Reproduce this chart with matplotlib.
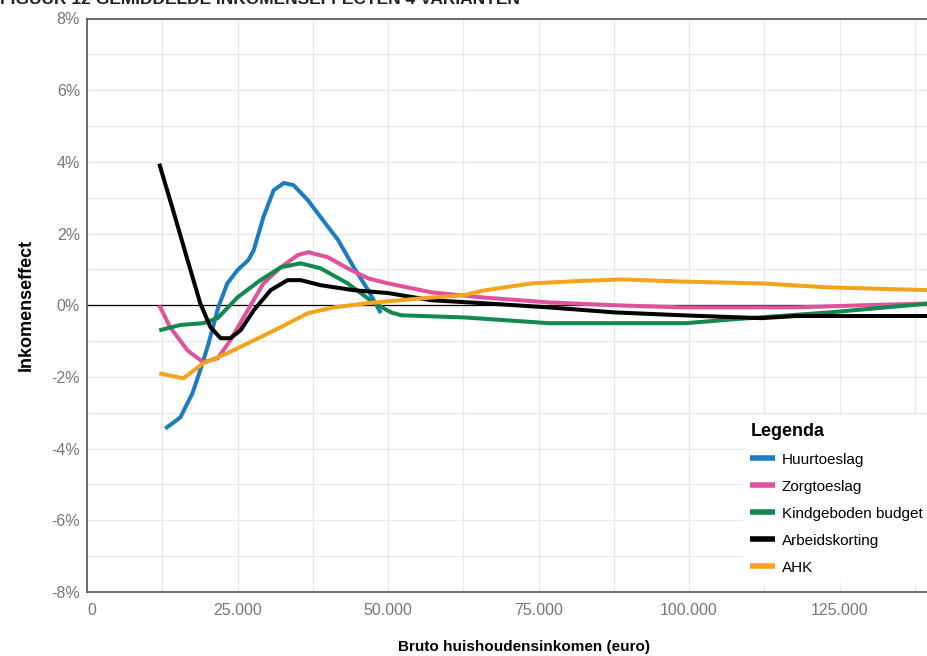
import matplotlib.pyplot as plt
from matplotlib.ticker import FuncFormatter, MultipleLocator

plt.rcParams['font.family'] = ['Liberation Sans', 'DejaVu Sans']

#=== data (inkomen in euro, effect in %) ===

huur_x = [13000, 15500, 17500, 18800, 20200, 21800, 23300, 25000, 26800, 27700,
          29300, 31000, 32700, 34300, 36700, 38800, 41700, 44300, 46700, 48800]
huur_y = [-3.44, -3.13, -2.46, -1.82, -1.06, -0.06, 0.61, 0.98, 1.26, 1.54,
          2.46, 3.21, 3.41, 3.35, 2.93, 2.46, 1.82, 1.06, 0.42, -0.22]

zorg_x = [12000, 13800, 16700, 19300, 21700, 23800, 26700, 29300, 32200, 35000,
          36800, 40000, 43300, 46700, 50000, 55500, 57200, 65500, 76700, 87700,
          98800, 117800, 128800, 140000]
zorg_y = [0.0, -0.61, -1.26, -1.59, -1.48, -0.98, -0.14, 0.61, 1.06, 1.40,
          1.48, 1.34, 1.03, 0.75, 0.61, 0.42, 0.36, 0.22, 0.08, 0.0,
          -0.06, -0.06, 0.0, 0.05]

kgb_x = [12000, 15500, 19300, 21700, 25000, 28800, 32200, 35500, 38800, 43300,
         47700, 50500, 52200, 62700, 76700, 99500, 106700, 123300, 140000]
kgb_y = [-0.70, -0.55, -0.50, -0.36, 0.22, 0.70, 1.06, 1.17, 1.03, 0.61,
         0.06, -0.20, -0.28, -0.34, -0.50, -0.50, -0.40, -0.20, 0.05]

ak_x = [12000, 14300, 16700, 18800, 20500, 22200, 23800, 25500, 27700, 30500,
        33300, 35500, 38800, 44300, 50000, 57200, 65500, 76700, 87700, 98800,
        112000, 117800, 140000]
ak_y = [3.95, 2.65, 1.26, 0.06, -0.61, -0.92, -0.92, -0.70, -0.14, 0.42,
        0.70, 0.70, 0.56, 0.42, 0.34, 0.14, 0.06, -0.06, -0.20, -0.28,
        -0.36, -0.30, -0.30]

ahk_x = [12000, 16000, 19300, 23300, 27700, 32200, 36700, 41000, 46700, 56000,
         62700, 65500, 73800, 82200, 88800, 98800, 112000, 123000, 140000]
ahk_y = [-1.90, -2.04, -1.62, -1.34, -0.98, -0.61, -0.22, -0.06, 0.06, 0.20,
         0.28, 0.40, 0.61, 0.68, 0.72, 0.66, 0.61, 0.50, 0.42]

series = [
    ('Huurtoeslag', huur_x, huur_y, '#1b7cc3'),
    ('Zorgtoeslag', zorg_x, zorg_y, '#e0529b'),
    ('Kindgeboden budget', kgb_x, kgb_y, '#128a4f'),
    ('Arbeidskorting', ak_x, ak_y, '#000000'),
    ('AHK', ahk_x, ahk_y, '#f2a51c'),
]

x_ticks = [0, 25000, 50000, 75000, 100000, 125000]
y_ticks = [-8, -6, -4, -2, 0, 2, 4, 6, 8]

#=== figuur ===

fig = plt.figure(figsize=(9.27, 6.56), dpi=100)
ax = fig.add_axes([87/927, 64/656, 873/927, 573.5/656])

ax.axhline(0, color='black', lw=0.9, zorder=2)
for naam, xs, ys, kleur in series:
    ax.plot(xs, ys, color=kleur, lw=2.9, label=naam, solid_capstyle='butt', zorder=3)

ax.set_xlim(0, 145000)
ax.set_ylim(-8, 8)
ax.set_xticks(x_ticks)
ax.set_yticks(y_ticks)
ax.xaxis.set_minor_locator(MultipleLocator(12500))
ax.yaxis.set_minor_locator(MultipleLocator(1))
ax.xaxis.set_major_formatter(FuncFormatter(lambda v, p: f'{int(v):,}'.replace(',', '.')))
ax.yaxis.set_major_formatter(FuncFormatter(lambda v, p: f'{int(v)}%'))
ax.grid(True, which='both', color='#e8e8e8', lw=0.9, zorder=0)
ax.set_axisbelow(True)
ax.tick_params(which='both', length=0, labelsize=11.5, labelcolor='#777777')
ax.tick_params(axis='x', pad=8)
ax.tick_params(axis='y', pad=5)
ax.get_xticklabels()[0].set_ha('left')

for s in ['left', 'bottom', 'top']:
    ax.spines[s].set_color('#555555')
    ax.spines[s].set_linewidth(1.2)
ax.spines['right'].set_visible(False)

ax.set_xlabel('Bruto huishoudensinkomen (euro)', fontsize=11, fontweight='bold', labelpad=16)
ax.set_ylabel('Inkomenseffect', fontsize=13, fontweight='bold', labelpad=12)

leg = ax.legend(loc='lower left', bbox_to_anchor=(735/927, 66/656),
                bbox_transform=fig.transFigure, title='Legenda', frameon=True,
                fontsize=11, handlelength=1.6, handletextpad=0.45, labelspacing=0.85,
                borderpad=0.5, alignment='left')
leg.get_frame().set_facecolor('white')
leg.get_frame().set_edgecolor('white')
leg.get_frame().set_alpha(1)
leg.get_title().set_fontweight('bold')
leg.get_title().set_fontsize(13)
for lijn in leg.get_lines():
    lijn.set_linewidth(4)

fig.text(0.0, 1.0, 'FIGUUR 12 GEMIDDELDE INKOMENSEFFECTEN 4 VARIANTEN',
         fontsize=12.5, fontweight='bold', color='#222222', va='center', ha='left')

fig.savefig('out.png', dpi=100)
